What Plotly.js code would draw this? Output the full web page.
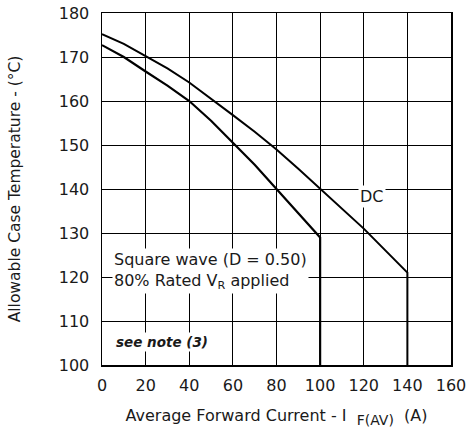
<!DOCTYPE html>
<html><head><meta charset="utf-8">
<script src="https://cdn.plot.ly/plotly-3.0.1.min.js"></script>
<style>html,body{margin:0;padding:0;background:#fff}#chart{width:468px;height:434px}</style>
</head><body><div id="chart"></div>
<script>
const dcCurrent = [0, 10, 20, 30, 40, 50, 60, 70, 80, 90, 100, 110, 120, 130, 140, 140];
const dcTemp    = [175.2, 173, 170.2, 167.4, 164.2, 160.6, 156.8, 153, 149, 144.6, 140, 135.5, 131, 126, 121, 100];
const sqCurrent = [0, 10, 20, 30, 40, 50, 60, 70, 80, 90, 100, 100];
const sqTemp    = [172.7, 170, 166.7, 163.5, 160, 155.5, 150.5, 145.5, 140, 134.5, 129, 100];
const xTicks = [0, 20, 40, 60, 80, 100, 120, 140, 160];
const yTicks = [100, 110, 120, 130, 140, 150, 160, 170, 180];

const FONT = 'DejaVu Sans';
const INK = '#1a1a1a';

const traces = [
  {x: dcCurrent, y: dcTemp, mode: 'lines', line: {color: '#000', width: 2}, hoverinfo: 'skip'},
  {x: sqCurrent, y: sqTemp, mode: 'lines', line: {color: '#000', width: 2.2}, hoverinfo: 'skip'}
];

const axisCommon = {
  showgrid: true, gridcolor: '#000', gridwidth: 1,
  showline: true, linecolor: '#000', linewidth: 1.5, mirror: true,
  zeroline: false, ticks: '', tickfont: {family: FONT, size: 16, color: INK}
};

const layout = {
  width: 468, height: 434,
  margin: {l: 102, r: 17, t: 13, b: 69},
  paper_bgcolor: '#fff', plot_bgcolor: '#fff',
  showlegend: false,
  font: {family: FONT, color: INK},
  xaxis: Object.assign({}, axisCommon, {
    range: [0, 160], tickvals: xTicks, ticktext: xTicks.map(String), ticklabelstandoff: 5,
    title: {text: 'Average Forward Current - I  <sub><span style="font-size:14px">F(AV)</span></sub>  (A)', font: {family: FONT, size: 16, color: INK}, standoff: 16}
  }),
  yaxis: Object.assign({}, axisCommon, {
    range: [100, 180], tickvals: yTicks, ticktext: yTicks.map(String), ticklabelstandoff: 8,
    title: {text: 'Allowable Case Temperature - (°C)', font: {family: FONT, size: 15.5, color: INK}, standoff: 34}
  }),
  annotations: [
    {x: 124, y: 138.3, xref: 'x', yref: 'y', text: 'DC', showarrow: false,
     bgcolor: '#fff', borderpad: 1, font: {family: FONT, size: 16, color: INK}},
    {x: 4.8, y: 121.4, xref: 'x', yref: 'y', xanchor: 'left', align: 'left', showarrow: false,
     text: 'Square wave (D = 0.50)<br>80% Rated V<sub>R</sub> applied',
     bgcolor: '#fff', borderpad: 1, font: {family: FONT, size: 16, color: INK}},
    {x: 5.5, y: 105.3, xref: 'x', yref: 'y', xanchor: 'left', showarrow: false,
     text: '<b><i>see note (3)</i></b>',
     bgcolor: '#fff', borderpad: 1, font: {family: FONT, size: 13.5, color: INK}}
  ]
};

Plotly.newPlot('chart', traces, layout, {staticPlot: true, displayModeBar: false});
</script>
</body></html>
